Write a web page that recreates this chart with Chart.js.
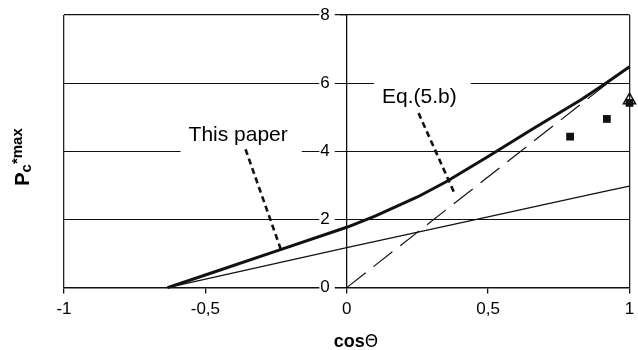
<!DOCTYPE html>
<html><head><meta charset="utf-8">
<script src="https://cdn.jsdelivr.net/npm/chart.js@4/dist/chart.umd.min.js"></script>
<style>html,body{margin:0;padding:0;background:#fff}#wrap{width:638px;height:350px;position:relative}</style>
</head><body><div id="wrap"><canvas id="c" width="638" height="350" style="width:638px;height:350px"></canvas></div>
<script>
// ---- data ----
const xTicks = [-1, -0.5, 0, 0.5, 1];
const yTicks = [0, 2, 4, 6, 8];
const thisPaperX = [-0.634, -0.5, -0.25, 0, 0.1, 0.25, 0.35, 0.5, 0.65, 0.83, 0.92, 1];
const thisPaperY = [0, 0.37, 1.07, 1.77, 2.1, 2.66, 3.1, 3.85, 4.62, 5.52, 6.02, 6.48];
const thinX = [-0.634, -0.25, 0, 0.459, 0.75, 0.9, 1];
const thinY = [0, 0.71, 1.17, 2.0, 2.53, 2.8, 2.98];
const eqX = [0, 1];
const eqY = [0, 6.5];
const squaresX = [0.79, 0.92, 1];
const squaresY = [4.43, 4.95, 5.42];
const triangleX = [1];
const triangleY = [5.5];
const noteTexts = ['This paper', 'Eq.(5.b)'];
const noteX = [-0.384, 0.257];
const noteY = [4.47, 5.59];
const leader1X = [-0.358, -0.233];
const leader1Y = [4.06, 1.12];
const leader2X = [0.254, 0.384];
const leader2Y = [5.12, 2.71];

const pts = (xs, ys) => xs.map((x, i) => ({x, y: ys[i]}));
const FONT = '"Liberation Sans", Arial, sans-serif';

const notesPlugin = {
  id: 'notes',
  beforeDatasetsDraw(chart) {
    const {ctx, scales: {x, y}} = chart;
    ctx.save();
    ctx.font = '21px ' + FONT;
    ctx.textAlign = 'center';
    ctx.textBaseline = 'middle';
    noteTexts.forEach((t, i) => {
      const px = x.getPixelForValue(noteX[i]);
      const py = y.getPixelForValue(noteY[i]);
      const w = ctx.measureText(t).width;
      ctx.fillStyle = '#fff';
      ctx.fillRect(px - w / 2 - 8, py - 16, w + 22, 34);
      ctx.fillStyle = '#000';
      ctx.fillText(t, px, py);
    });
    ctx.restore();
  },
  afterDraw(chart) {
    const {ctx} = chart;
    ctx.save();
    ctx.fillStyle = '#000';
    ctx.textBaseline = 'alphabetic';
    // x title
    const runsX = [['bold 18px ' + FONT, 'cos', 0], ['17px "DejaVu Sans", sans-serif', 'Θ', 0]];
    let tw = 0;
    runsX.forEach(r => { ctx.font = r[0]; tw += ctx.measureText(r[1]).width; });
    let cx = 356 - tw / 2;
    runsX.forEach(r => { ctx.font = r[0]; ctx.fillText(r[1], cx, 347 + r[2]); cx += ctx.measureText(r[1]).width; });
    // y title rotated
    const runsY = [['bold 20px ' + FONT, 'P', 0], ['bold 15px ' + FONT, 'c', 2], ['bold 15px ' + FONT, '*max', -7]];
    tw = 0;
    runsY.forEach(r => { ctx.font = r[0]; tw += ctx.measureText(r[1]).width; });
    ctx.translate(29, 157);
    ctx.rotate(-Math.PI / 2);
    cx = -tw / 2;
    runsY.forEach(r => { ctx.font = r[0]; ctx.fillText(r[1], cx, r[2]); cx += ctx.measureText(r[1]).width; });
    ctx.restore();
  }
};

new Chart(document.getElementById('c'), {
  type: 'scatter',
  data: {
    datasets: [
      {data: pts(squaresX, squaresY), pointStyle: 'rect', pointRadius: 5.5, backgroundColor: '#111', borderColor: '#111', borderWidth: 0, showLine: false, order: 0},
      {data: pts(triangleX, triangleY), pointStyle: 'triangle', pointRadius: 7, backgroundColor: 'rgba(255,255,255,0)', borderColor: '#111', borderWidth: 1.5, showLine: false, order: 1},
      {data: pts(thisPaperX, thisPaperY), showLine: true, borderColor: '#111', borderWidth: 3, pointRadius: 0, tension: 0, order: 2},
      {data: pts(thinX, thinY), showLine: true, borderColor: '#111', borderWidth: 1.3, pointRadius: 0, tension: 0, order: 3},
      {data: pts(eqX, eqY), showLine: true, borderColor: '#111', borderWidth: 1.2, borderDash: [24, 10], pointRadius: 0, order: 4},
      {data: pts(leader1X, leader1Y), showLine: true, borderColor: '#111', borderWidth: 2.6, borderDash: [6, 4], pointRadius: 0, order: 5},
      {data: pts(leader2X, leader2Y), showLine: true, borderColor: '#111', borderWidth: 2.6, borderDash: [6, 4], pointRadius: 0, order: 6}
    ].map(d => Object.assign(d, {clip: false}))
  },
  options: {
    responsive: false,
    maintainAspectRatio: false,
    animation: false,
    devicePixelRatio: 1,
    layout: {padding: {left: 64, right: 7, top: 15, bottom: 25}},
    plugins: {legend: {display: false}, tooltip: {enabled: false}},
    events: [],
    scales: {
      x: {
        type: 'linear', position: 'bottom', min: -1, max: 1,
        afterBuildTicks: s => { s.ticks = xTicks.map(v => ({value: v})); },
        afterFit: s => { s.paddingRight = 0; s.paddingLeft = 0; },
        grid: {
          color: c => (c.tick && (c.tick.value === -1 || c.tick.value === 1)) ? '#222' : 'rgba(0,0,0,0)',
          lineWidth: 1.3, tickColor: '#111', tickLength: 6, drawTicks: true
        },
        border: {color: '#111', width: 1.4},
        ticks: {font: {family: FONT, size: 17}, color: '#000', padding: 5.5, maxRotation: 0, autoSkip: false,
          callback: v => String(v).replace('.', ',')}
      },
      y: {
        type: 'linear', position: {x: 0}, min: 0, max: 8,
        afterBuildTicks: s => { s.ticks = yTicks.map(v => ({value: v})); },
        grid: {color: '#111', lineWidth: c => (c.tick && c.tick.value === 8) ? 1.3 : 1, tickColor: '#111', tickLength: 6},
        border: {color: '#111', width: 1.3},
        ticks: {font: {family: FONT, size: 17}, color: '#000', padding: 0, autoSkip: false,
          callback: v => String(v) + '\u2002\u2002',
          showLabelBackdrop: true, backdropColor: '#fff', backdropPadding: {top: 0, bottom: 0, left: 1, right: -12}}
      }
    }
  },
  plugins: [notesPlugin]
});
</script>
</body></html>
